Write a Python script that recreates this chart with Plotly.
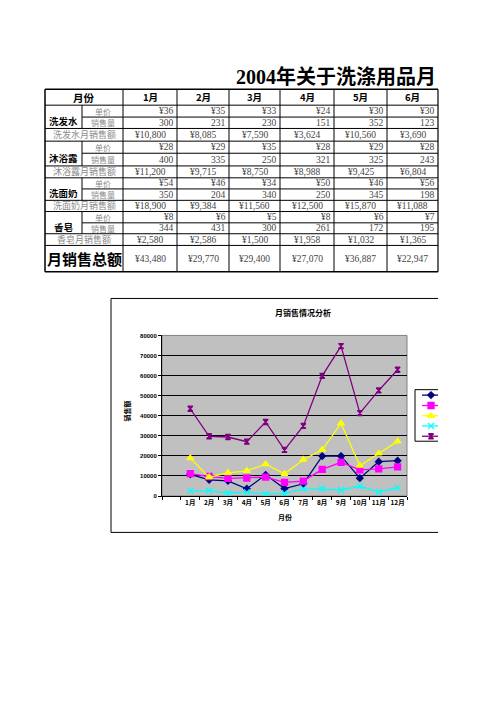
import plotly.graph_objects as go

# ---------------- data ----------------
months = ["1月", "2月", "3月", "4月", "5月", "6月", "7月", "8月", "9月", "10月", "11月", "12月"]
table_months = months[:6]
products = ["洗发水", "沐浴露", "洗面奶", "香皂"]

shampoo_price = [36, 35, 33, 24, 30, 30]
shampoo_qty = [300, 231, 230, 151, 352, 123]
shampoo_sales = [10800, 8085, 7590, 3624, 10560, 3690, 6100, 19900, 19900, 8900, 17100, 17600]

bodywash_price = [28, 29, 35, 28, 29, 28]
bodywash_qty = [400, 335, 250, 321, 325, 243]
bodywash_sales = [11200, 9715, 8750, 8988, 9425, 6804, 7400, 13300, 16800, 13000, 13500, 14500]

cleanser_price = [54, 46, 34, 50, 46, 56]
cleanser_qty = [350, 204, 340, 250, 345, 198]
cleanser_sales = [18900, 9384, 11560, 12500, 15870, 11088, 18100, 23000, 36200, 15100, 21200, 27200]

soap_price = [8, 6, 5, 8, 6, 7]
soap_qty = [344, 431, 300, 261, 172, 195]
soap_sales = [2580, 2586, 1500, 1958, 1032, 1365, 3600, 3600, 3000, 4900, 2000, 4200]

total_sales = [43480, 29770, 29400, 27070, 36887, 22947, 34900, 59900, 74700, 41300, 52600, 62900]

series_names = ["洗发水月销售额", "沐浴露月销售额", "洗面奶月销售额", "香皂月销售额", "月销售总额"]
series_values = [shampoo_sales, bodywash_sales, cleanser_sales, soap_sales, total_sales]

title_text = "2004年关于洗涤用品月"
chart_title = "月销售情况分析"

# ---------------- helpers ----------------
# page is 496x702; the html body keeps an 8px margin, so the figure is drawn inside it
OFF = 8
W, H = 496 - 2 * OFF, 702 - 2 * OFF
def px(x):
    return (x - OFF) / W
def py(y):
    return 1 - (y - OFF) / H

FONT = "Liberation Serif, Noto Sans CJK SC"
CJK = "Noto Sans CJK SC"
shapes = []
annos = []

def hline(y, x0, x1, color="black", width=1):
    shapes.append(dict(type="line", xref="paper", yref="paper", x0=px(x0), x1=px(x1),
                       y0=py(y), y1=py(y), line=dict(color=color, width=width)))

def vline(x, y0, y1, color="black", width=1):
    shapes.append(dict(type="line", xref="paper", yref="paper", x0=px(x), x1=px(x),
                       y0=py(y0), y1=py(y1), line=dict(color=color, width=width)))

def text(x, y, s, size=10, color="black", anchor="center", bold=False, family=FONT, angle=0):
    annos.append(dict(x=px(x), y=py(y), xref="paper", yref="paper", text=s, showarrow=False,
                      xanchor=anchor, yanchor="middle", textangle=angle, borderpad=0,
                      font=dict(size=size, color=color, family=family,
                                weight="bold" if bold else "normal")))

def money(v):
    return "¥{:,}".format(v)

# ---------------- title ----------------
text(437, 75, title_text, size=20, anchor="right", bold=True, family="Liberation Serif, Noto Sans CJK SC")

# ---------------- table ----------------
XC = [45, 82, 123, 177, 229, 280, 334, 387, 438]
YR = [87, 103, 115, 126.5, 139.3, 151.5, 164.3, 176.3, 187.5, 199, 210.3, 221.7, 232.7, 244.5, 271]
L, R = XC[0], XC[-1]

hline(YR[0], L, R, width=1.5)
hline(YR[1], L, R)
for b in range(4):
    r = 1 + 3 * b
    hline(YR[r + 1], XC[1], R)
    hline(YR[r + 2], L, R)
    hline(YR[r + 3], L, R)
    vline(XC[1], YR[r], YR[r + 2])
hline(YR[-1], L, R, width=1.5)
vline(L, YR[0], YR[-1], width=1.5)
vline(R, YR[0], YR[-1], width=1.2)
for x in XC[2:-1]:
    vline(x, YR[0], YR[-1])

GRAY_LABEL = "#8a8a8a"
GRAY_NUM = "#444444"

text((XC[0] + XC[2]) / 2, (YR[0] + YR[1]) / 2, "月份", size=10.5, bold=True, family=CJK)
for i, m in enumerate(table_months):
    text((XC[2 + i] + XC[3 + i]) / 2, (YR[0] + YR[1]) / 2, m, size=9.5, bold=True, family=CJK)

prices = [shampoo_price, bodywash_price, cleanser_price, soap_price]
qtys = [shampoo_qty, bodywash_qty, cleanser_qty, soap_qty]
sales = [shampoo_sales, bodywash_sales, cleanser_sales, soap_sales]
for b, name in enumerate(products):
    r = 1 + 3 * b
    text((XC[0] + XC[1]) / 2, (YR[r + 1] + YR[r + 2]) / 2 - 1.5, name, size=9.5, bold=True, family=CJK)
    text((XC[1] + XC[2]) / 2, (YR[r] + YR[r + 1]) / 2, "单价", size=8, color=GRAY_LABEL, family=CJK)
    text((XC[1] + XC[2]) / 2, (YR[r + 1] + YR[r + 2]) / 2, "销售量", size=8, color=GRAY_LABEL, family=CJK)
    text((XC[0] + XC[2]) / 2, (YR[r + 2] + YR[r + 3]) / 2, name + "月销售额", size=9,
         color=GRAY_LABEL, family=CJK)
    for i in range(6):
        text(XC[3 + i] - 2, (YR[r] + YR[r + 1]) / 2, "¥{}".format(prices[b][i]), size=9.5,
             color=GRAY_NUM, anchor="right")
        text(XC[3 + i] - 2, (YR[r + 1] + YR[r + 2]) / 2, str(qtys[b][i]), size=9.5,
             color=GRAY_NUM, anchor="right")
        text((XC[2 + i] + XC[3 + i]) / 2, (YR[r + 2] + YR[r + 3]) / 2, money(sales[b][i]),
             size=9.5, color=GRAY_NUM)

text((XC[0] + XC[2]) / 2, (YR[-2] + YR[-1]) / 2, "月销售总额", size=15, bold=True, family=CJK)
for i in range(6):
    text((XC[2 + i] + XC[3 + i]) / 2, (YR[-2] + YR[-1]) / 2, money(total_sales[i]),
         size=9.5, color=GRAY_NUM)

# ---------------- chart ----------------
PL, PR, PT, PB = 162, 407, 335.3, 497.3
# chart frame (clipped at right edge of page)
vline(111, 298, 534)
hline(298, 111, 438)
hline(534, 111, 438)

colors = ["#000080", "#FF00FF", "#FFFF00", "#00FFFF", "#800080"]
symbols = ["diamond", "square", "triangle-up", "x-thin-open", "hourglass"]
msizes = [5, 6, 6, 6, 5]

fig = go.Figure()
xs = list(range(1, len(months) + 1))
for name, vals, c, s, ms in zip(series_names, series_values, colors, symbols, msizes):
    fig.add_trace(go.Scatter(
        x=xs, y=vals, name=name, mode="lines+markers", showlegend=False,
        line=dict(color=c, width=1.3),
        marker=dict(symbol=s, size=ms, color=c, line=dict(color=c, width=1.3)),
        xaxis="x", yaxis="y"))

# plot area background
shapes.append(dict(type="rect", xref="x domain", yref="y domain", x0=0, x1=1, y0=0, y1=1,
                   fillcolor="#C0C0C0", line=dict(color="#808080", width=1), layer="below"))

# legend (clipped at page edge)
LG_L, LG_T, LG_B = 415, 390, 442
hline(LG_T, LG_L, 438)
hline(LG_B, LG_L, 438)
vline(LG_L, LG_T, LG_B)
leg_y = [395.5, 406, 416.3, 426.6, 437]
for c, yy in zip(colors, leg_y):
    hline(yy, 422, 438, color=c, width=1.3)
for name, c, s, ms, yy in zip(series_names, colors, symbols, msizes, leg_y):
    fig.add_trace(go.Scatter(
        x=[431], y=[yy], mode="markers", showlegend=False, hoverinfo="skip",
        marker=dict(symbol=s, size=ms, color=c, line=dict(color=c, width=1.3)),
        xaxis="x2", yaxis="y2"))

text((PL + PR) / 2 + 18, 312, chart_title, size=8, bold=True, family=CJK)
text(127, 412, "销售额", size=7, bold=True, family=CJK, angle=-90)
text(285, 518, "月份", size=7, bold=True, family=CJK)

fig.update_layout(
    width=W, height=H, margin=dict(l=0, r=0, t=0, b=0),
    paper_bgcolor="white", plot_bgcolor="rgba(0,0,0,0)",
    shapes=shapes, annotations=annos, showlegend=False,
    xaxis=dict(domain=[px(PL), px(PR)], range=[-0.5, len(months) + 0.5],
               tickvals=xs, ticktext=months, ticks="", showgrid=False, zeroline=False,
               showline=True, linecolor="black", linewidth=1,
               minor=dict(tickvals=[i - 0.5 for i in range(len(months) + 2)], ticks="outside",
                          ticklen=3, tickcolor="black", showgrid=False),
               tickfont=dict(size=6.5, family=CJK, weight="bold", color="black"),
               fixedrange=True),
    yaxis=dict(domain=[py(PB), py(PT)], range=[0, 80000], dtick=10000, tickformat="d",
               showgrid=True, gridcolor="black", gridwidth=1, zeroline=False,
               showline=True, linecolor="black", linewidth=1, ticks="outside", ticklen=3,
               tickcolor="black",
               tickfont=dict(size=6, family="Liberation Sans", weight="bold", color="black"),
               fixedrange=True),
    xaxis2=dict(domain=[0, 1], range=[OFF, OFF + W], anchor="y2", visible=False, fixedrange=True),
    yaxis2=dict(domain=[0, 1], range=[OFF + H, OFF], anchor="x2", visible=False, fixedrange=True),
)

fig.write_html("out.html")
